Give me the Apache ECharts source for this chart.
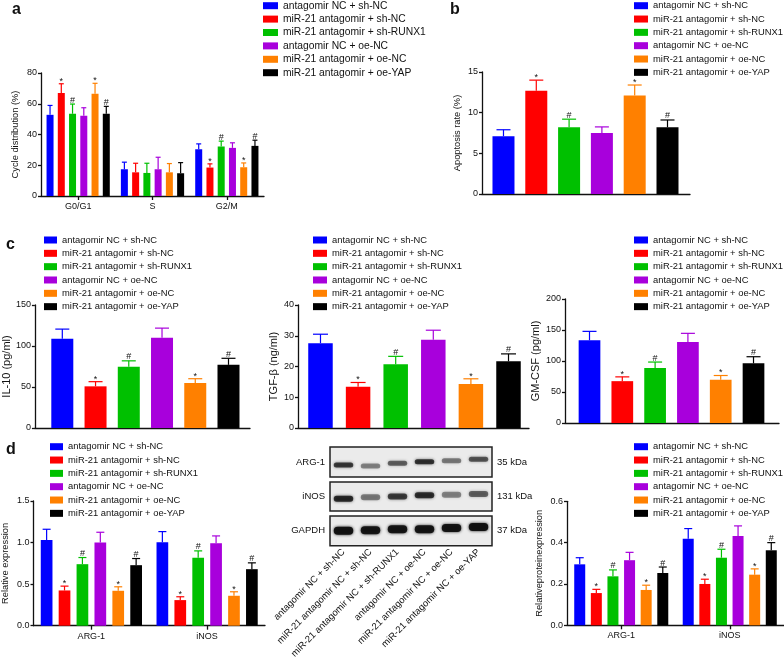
<!DOCTYPE html>
<html><head><meta charset="utf-8">
<script src="https://cdn.jsdelivr.net/npm/echarts@6/dist/echarts.min.js"></script>
<style>html,body{margin:0;padding:0;background:#fff}#c{width:784px;height:661px}</style>
</head><body><div id="c"></div>
<script>
const groups = ['antagomir NC + sh-NC','miR-21 antagomir + sh-NC','miR-21 antagomir + sh-RUNX1','antagomir NC + oe-NC','miR-21 antagomir + oe-NC','miR-21 antagomir + oe-YAP'];
const colors = ['#0000ff','#ff0000','#00c000','#a800dc','#ff8000','#000000'];

// panel a: cell cycle, [group][phase]
const phases = ['G0/G1','S','G2/M'];
const cycleMean = [[52.8,17.4,30.4],[67.0,15.4,18.5],[53.5,15.0,32.2],[52.2,17.4,31.3],[66.5,15.4,18.7],[53.5,14.8,32.6]];
const cycleErr  = [[6.1,4.6,3.5],[6.0,5.9,2.4],[6.3,6.3,3.5],[5.2,7.8,3.3],[6.8,5.7,2.8],[4.8,6.9,3.7]];
const cycleMarks = [['','',''],['*','','*'],['#','','#'],['','',''],['*','','*'],['#','','#']];

// panel b: apoptosis
const apoMean = [7.1,12.7,8.2,7.5,12.1,8.2];
const apoErr  = [0.8,1.3,1.0,0.75,1.3,0.9];

// panel c
const ilMean  = [108.9,50.8,74.6,110.0,54.8,77.0];
const ilErr   = [11.7,5.7,7.3,11.8,5.3,8.0];
const tgfMean = [27.6,13.4,20.7,28.7,14.3,21.7];
const tgfErr  = [2.9,1.4,2.6,3.1,1.7,2.4];
const gmMean  = [133.4,67.5,88.8,130.8,69.6,96.2];
const gmErr   = [14.4,6.9,9.5,13.8,7.0,10.7];
const sigMarks = ['','*','#','','*','#'];

// panel d, [group][gene]
const genes = ['ARG-1','iNOS'];
const relMean = [[1.03,1.004],[0.424,0.308],[0.74,0.816],[1.0,0.992],[0.42,0.36],[0.728,0.68]];
const relErr  = [[0.13,0.128],[0.052,0.04],[0.08,0.084],[0.124,0.088],[0.048,0.048],[0.08,0.076]];
const protMean = [[0.295,0.419],[0.156,0.2],[0.237,0.327],[0.315,0.432],[0.171,0.245],[0.253,0.363]];
const protErr  = [[0.032,0.049],[0.018,0.023],[0.031,0.041],[0.038,0.049],[0.023,0.028],[0.029,0.037]];

// western blot
const lanes = ['antagomir NC + sh-NC','miR-21 antagomir NC + sh-NC','miR-21 antagomir NC + sh-RUNX1','antagomir NC + oe-NC','miR-21 antagomir NC + oe-NC','miR-21 antagomir NC + oe-YAP'];
const blotRows = ['ARG-1','iNOS','GAPDH'];
const blotSizes = ['35 kDa','131 kDa','37 kDa'];
const bandIntensity = [[0.72,0.42,0.55,0.75,0.45,0.6],[0.8,0.45,0.7,0.78,0.42,0.55],[0.95,0.92,0.93,0.93,0.94,0.96]];
const bandShift = [[-0.2,-0.27,-0.09,0.02,0.09,0.18],[-0.15,-0.06,0,0.08,0.12,0.17],[0,0.03,0.1,0.1,0.19,0.26]];

const FF = '"Liberation Sans", Arial, sans-serif';
const INK = '#111';

const grids = [], xAxes = [], yAxes = [], series = [], legends = [];

function yAx(gi, min, max, interval, name, gap, dec, nfs) {
  return {type:'value', gridIndex:gi, min, max, interval,
    axisLine:{show:true, onZero:false, lineStyle:{color:INK, width:1.3}},
    axisTick:{show:true, length:3, lineStyle:{color:INK, width:1.3}},
    axisLabel:{fontSize:9, margin:4, color:INK, fontFamily:FF, formatter: v => dec ? v.toFixed(dec) : String(v)},
    splitLine:{show:false},
    name, nameLocation:'middle', nameGap:gap, nameTextStyle:{fontSize:nfs || 9.3, color:INK, fontFamily:FF}};
}
function xCat(gi, data) {
  return {type:'category', gridIndex:gi, data,
    axisLine:{show:true, lineStyle:{color:INK, width:1.3}},
    axisTick:{show:true, alignWithLabel:true, length:4, lineStyle:{color:INK, width:1.3}},
    axisLabel:{fontSize:9, margin:6, color:INK, fontFamily:FF}, splitLine:{show:false}};
}
function xVal(gi, min, max) {
  return {type:'value', gridIndex:gi, min, max,
    axisLine:{show:true, lineStyle:{color:INK, width:1.3}},
    axisTick:{show:false}, axisLabel:{show:false}, splitLine:{show:false}};
}
function legend(left, top, fs, iw, pitch) {
  return {left, top, orient:'vertical', data:groups, icon:'rect', itemWidth:iw, itemHeight:7,
    itemGap: pitch - 10, padding:0, selectedMode:false,
    textStyle:{fontSize:fs, lineHeight:10, color:INK, fontFamily:FF}};
}
function errSeries(xi, data, marks, pitch, capW) {
  return {type:'custom', xAxisIndex:xi, yAxisIndex:xi, z:5, silent:true, data, encode:{x:0, y:2},
    renderItem(params, api) {
      const x0 = api.value(0), si = api.value(1), m = api.value(2), e = api.value(3);
      const pb = api.coord([x0, m]), pt = api.coord([x0, m + e]);
      const x = pb[0] + (si - 2.5) * pitch;
      const col = colors[si];
      const ch = [
        {type:'line', shape:{x1:x, y1:pb[1], x2:x, y2:pt[1]}, style:{stroke:col, lineWidth:1.2}},
        {type:'line', shape:{x1:x - capW/2, y1:pt[1], x2:x + capW/2, y2:pt[1]}, style:{stroke:col, lineWidth:1.2}}
      ];
      const mk = marks[params.dataIndex];
      if (mk) ch.push({type:'text', style:{text:mk, x, y:pt[1] + (mk === '*' ? 2 : 0.5), align:'center', verticalAlign:'bottom', font:'9px ' + FF, fill:INK}});
      return {type:'group', children:ch};
    }};
}

function groupedPanel(gi, grid, cats, mean, err, marks, yMin, yMax, yInt, yName, yGap, dec, bw, gapPct, capW) {
  grids[gi] = grid;
  xAxes[gi] = xCat(gi, cats);
  yAxes[gi] = yAx(gi, yMin, yMax, yInt, yName, yGap, dec);
  groups.forEach((g, si) => {
    series.push({type:'bar', name:g, xAxisIndex:gi, yAxisIndex:gi, data:mean[si], barWidth:bw, barGap:gapPct, itemStyle:{color:colors[si]}, z:2, silent:true});
  });
  const d = [], mk = [];
  groups.forEach((g, si) => cats.forEach((c, ci) => { d.push([ci, si, mean[si][ci], err[si][ci]]); mk.push(marks[si][ci]); }));
  const pitch = bw * (1 + parseFloat(gapPct) / 100);
  series.push(errSeries(gi, d, mk, pitch, capW));
}
function singlePanel(gi, grid, xmin, xmax, mean, err, yMin, yMax, yInt, yName, yGap, bw, capW, nfs) {
  grids[gi] = grid;
  xAxes[gi] = xVal(gi, xmin, xmax);
  yAxes[gi] = yAx(gi, yMin, yMax, yInt, yName, yGap, 0, nfs);
  groups.forEach((g, si) => {
    series.push({type:'bar', name:g, xAxisIndex:gi, yAxisIndex:gi, data:[[si, mean[si]]], barWidth:bw, barGap:'-100%', itemStyle:{color:colors[si]}, z:2, silent:true});
  });
  const d = groups.map((g, si) => [si, si, mean[si], err[si]]);
  series.push(errSeries(gi, d, sigMarks, 0, capW));
}

groupedPanel(0, {left:41, top:73, width:223, height:123}, phases, cycleMean, cycleErr, cycleMarks, 0, 80, 20, 'Cycle distribution (%)', 21.5, 0, 7, '60.7%', 5);
singlePanel(1, {left:482, top:72, width:208, height:122}, -0.655, 5.686, apoMean, apoErr, 0, 15, 5, 'Apoptosis rate (%)', 20.5, 22, 14);
singlePanel(2, {left:30, top:305, width:220, height:123}, -0.824, 5.647, ilMean, ilErr, 0, 150, 50, 'IL-10 (pg/ml)', 17.5, 22, 14, 11);
singlePanel(3, {left:298, top:305, width:231, height:123}, -0.598, 5.545, tgfMean, tgfErr, 0, 40, 10, 'TGF-β (ng/ml)', 19, 24.5, 15, 11);
singlePanel(4, {left:565, top:299, width:214, height:124}, -0.747, 5.777, gmMean, gmErr, 0, 200, 50, 'GM-CSF (pg/ml)', 23.5, 21.7, 14, 11);
const relMarks = groups.map((g, si) => genes.map(() => sigMarks[si]));
groupedPanel(5, {left:33, top:501, width:232, height:124.7}, genes, relMean, relErr, relMarks, 0, 1.5, 0.5, 'Relative expression', 23.5, 1, 11.7, '53%', 8);
groupedPanel(6, {left:567, top:501.3, width:217, height:124}, genes, protMean, protErr, relMarks, 0, 0.6, 0.2, 'Relativeproteinexpression', 23, 1, 11, '51%', 8);

const blotGeom = [{top:447, height:30, bh:5}, {top:482, height:29, bh:6}, {top:516, height:31, bh:8}];
blotRows.forEach((row, r) => {
  const gi = 7 + r;
  grids[gi] = {left:330, top:blotGeom[r].top, width:162, height:blotGeom[r].height, show:true, backgroundColor:'#ebebeb', borderColor:'#222', borderWidth:1.5};
  xAxes[gi] = {type:'category', gridIndex:gi, data:lanes, axisLine:{show:false}, axisTick:{show:false}, splitLine:{show:false},
    axisLabel: r === 2 ? {show:true, interval:0, rotate:45, fontSize:9.5, margin:5, color:INK, fontFamily:FF} : {show:false}};
  const yl = {type:'value', gridIndex:gi, min:-1, max:1, axisLine:{show:false}, axisTick:{show:false}, axisLabel:{show:false}, splitLine:{show:false},
    nameLocation:'middle', nameRotate:0, nameTextStyle:{fontSize:9.5, color:INK, fontFamily:FF}};
  yAxes.push(Object.assign({}, yl, {position:'left', name:row, nameGap:5}));
  yAxes.push(Object.assign({}, yl, {position:'right', name:blotSizes[r], nameGap:5}));
  const bh = blotGeom[r].bh;
  series.push({type:'custom', xAxisIndex:gi, yAxisIndex:yAxes.length - 2, silent:true, z:3,
    data: lanes.map((l, li) => [li, bandShift[r][li], bandIntensity[r][li]]), encode:{x:0, y:1},
    renderItem(params, api) {
      const p = api.coord([api.value(0), api.value(1)]);
      const w = api.size([1, 0])[0] * 0.72;
      const a = api.value(2);
      const c = 'rgba(15,15,15,' + a + ')';
      return {type:'rect', shape:{x:p[0] - w/2, y:p[1] - bh/2, width:w, height:bh, r:bh/2},
        style:{fill:c, shadowBlur:3, shadowColor:c}};
    }});
});
legends.push(legend(263, 0.7, 10.3, 15, 13.4));
legends.push(legend(634, 0.7, 9.4, 14, 13.33));
legends.push(legend(44, 235, 9.4, 13, 13.33));
legends.push(legend(313, 235, 9.4, 14, 13.33));
legends.push(legend(634, 235, 9.4, 14, 13.33));
legends.push(legend(50, 441.7, 9.4, 13, 13.33));
legends.push(legend(634, 441.7, 9.4, 14, 13.33));

const letters = [['a',12,1.5],['b',450,1.5],['c',6,236.5],['d',6,441.5]].map(([t, x, y]) => ({
  type:'text', left:x, top:y, style:{text:t, font:'bold 16px ' + FF, fill:INK}}));

const chart = echarts.init(document.getElementById('c'), null, {renderer:'canvas'});
chart.setOption({animation:false, backgroundColor:'#fff', textStyle:{fontFamily:FF},
  grid:grids, xAxis:xAxes, yAxis:yAxes, series, legend:legends, graphic:letters});
</script></body></html>
